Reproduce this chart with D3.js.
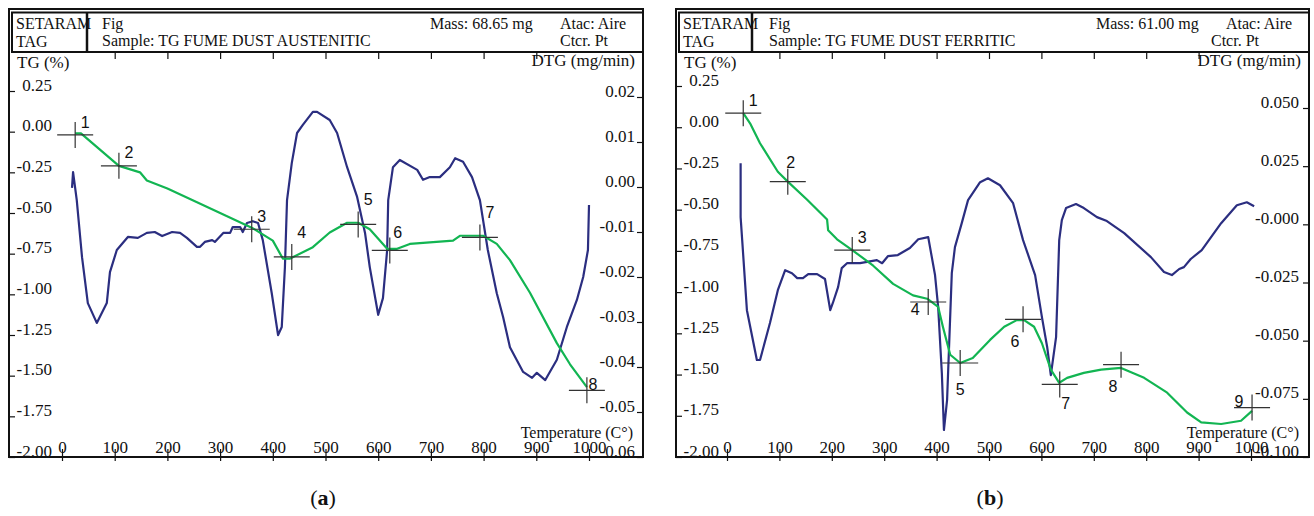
<!DOCTYPE html>
<html>
<head>
<meta charset="utf-8">
<script src="https://cdn.jsdelivr.net/npm/d3@7"></script>
<style>
  body { margin: 0; background: #fff; }
  svg text { font-family: "Liberation Serif", "Times New Roman", serif; fill: #111; }
  svg text.num { font-family: "Liberation Sans", Arial, sans-serif; }
</style>
</head>
<body>
<svg id="chart" width="1314" height="516"></svg>
<script>
// ---- data, panel (a): fume dust austenitic ----
const tempA = [25, 36, 72, 108, 148, 161, 200, 247, 300, 360, 400, 419, 433, 476, 508, 541, 562, 584,
  617, 636, 660, 742, 755, 799, 825, 850, 888, 939, 964, 996];
const tgA = [-0.01, -0.01, -0.11, -0.21, -0.25, -0.30, -0.35, -0.42, -0.50, -0.59, -0.67, -0.78, -0.78,
  -0.71, -0.62, -0.56, -0.56, -0.60, -0.72, -0.72, -0.69, -0.67, -0.64, -0.64, -0.69, -0.79, -0.99,
  -1.30, -1.43, -1.57];

const dtgTempA = [19, 21, 28, 38, 49, 66, 85, 91, 104, 125, 144, 161, 176, 190, 209, 224, 237, 256, 262,
  271, 285, 290, 306, 319, 324, 338, 343, 351, 362, 372, 381, 398, 410, 417, 423, 427, 436, 446, 457,
  476, 484, 508, 522, 541, 560, 575, 584, 600, 609, 617, 619, 628, 641, 674, 685, 698, 717, 736, 746,
  761, 778, 793, 808, 825, 837, 850, 875, 892, 901, 917, 939, 958, 977, 989, 998, 1000];
const dtgA = [-0.0002, 0.0033, -0.0029, -0.0156, -0.0258, -0.0302, -0.0258, -0.0189, -0.0140, -0.0111,
  -0.0113, -0.0102, -0.0100, -0.0109, -0.0100, -0.0102, -0.0113, -0.0133, -0.0133, -0.0122, -0.0118,
  -0.0122, -0.0102, -0.0102, -0.0089, -0.0089, -0.0100, -0.0080, -0.0076, -0.0080, -0.0118, -0.0236,
  -0.0329, -0.0311, -0.0178, -0.0029, 0.0053, 0.0120, 0.0138, 0.0167, 0.0167, 0.0149, 0.0120, 0.0044,
  -0.0022, -0.0102, -0.0178, -0.0284, -0.0247, -0.0140, -0.0029, 0.0044, 0.0060, 0.0038, 0.0016,
  0.0022, 0.0022, 0.0044, 0.0064, 0.0056, 0.0022, -0.0029, -0.0140, -0.0236, -0.0289, -0.0356,
  -0.0411, -0.0424, -0.0413, -0.0429, -0.0384, -0.0311, -0.0251, -0.0200, -0.0140, -0.0040];

const markTempA = [25, 108, 360, 436, 562, 622, 793, 996];
const markTgA = [-0.02, -0.21, -0.60, -0.77, -0.57, -0.73, -0.65, -1.59];
const markSideA = ['ne', 'ne', 'ne', 'nne', 'nne', 'ne2', 'nne', 'e'];

// ---- data, panel (b): fume dust ferritic ----
const tempB = [31, 44, 63, 97, 116, 153, 191, 193, 210, 239, 279, 317, 355, 382, 403, 412, 426, 445,
  469, 502, 529, 553, 567, 586, 601, 618, 634, 649, 681, 714, 752, 796, 840, 878, 905, 943, 981, 1002];
const tgB = [0.085, 0.024, -0.097, -0.27, -0.33, -0.44, -0.56, -0.625, -0.68, -0.745, -0.84, -0.95,
  -1.02, -1.04, -1.09, -1.21, -1.38, -1.43, -1.40, -1.29, -1.21, -1.17, -1.17, -1.21, -1.31, -1.47,
  -1.55, -1.52, -1.49, -1.47, -1.46, -1.52, -1.61, -1.73, -1.79, -1.80, -1.78, -1.72];

const dtgTempB = [26, 26, 29, 38, 57, 63, 82, 97, 111, 124, 134, 145, 155, 172, 187, 197, 202, 212, 219,
  229, 254, 286, 296, 307, 326, 349, 365, 384, 397, 403, 410, 414, 420, 429, 435, 448, 460, 483, 498,
  521, 546, 565, 588, 601, 611, 618, 628, 634, 639, 647, 666, 681, 706, 725, 758, 809, 834, 849, 863,
  872, 885, 906, 943, 973, 992, 1006];
const dtgB = [0.0263, 0.0031, -0.0068, -0.0369, -0.0583, -0.0583, -0.0424, -0.0283, -0.0197, -0.0210,
  -0.0231, -0.0231, -0.0214, -0.0214, -0.0235, -0.0369, -0.0338, -0.0270, -0.0188, -0.0167, -0.0167,
  -0.0154, -0.0167, -0.0137, -0.0132, -0.0102, -0.0064, -0.0055, -0.0218, -0.0356, -0.0639, -0.0884,
  -0.0755, -0.0210, -0.0098, 0.0005, 0.0104, 0.0181, 0.0198, 0.0168, 0.0091, -0.0068, -0.0218, -0.0399,
  -0.0527, -0.0648, -0.0485, -0.0068, 0.0018, 0.0070, 0.0087, 0.0070, 0.0031, 0.0014, -0.0038, -0.0141,
  -0.0205, -0.0218, -0.0192, -0.0184, -0.0149, -0.0111, 0.0005, 0.0082, 0.0095, 0.0078];

const markTempB = [31, 116, 239, 384, 445, 565, 635, 752, 1002];
const markTgB = [0.085, -0.33, -0.745, -1.06, -1.43, -1.165, -1.56, -1.44, -1.70];
const markSideB = ['ne', 'n', 'ne', 'wsw', 's', 'sw', 'se', 'sw', 'w'];

// ---- ticks ----
const tempTicks = [0, 100, 200, 300, 400, 500, 600, 700, 800, 900, 1000];
const topTicks = [100, 200, 300, 400, 500, 600, 700, 800, 900];
const tgTicks = [0.25, 0, -0.25, -0.5, -0.75, -1, -1.25, -1.5, -1.75, -2];
const tgTickLabels = ['0.25', '0.00', '-0.25', '-0.50', '-0.75', '-1.00', '-1.25', '-1.50', '-1.75', '-2.00'];
const dtgTicksA = [0.02, 0.01, 0, -0.01, -0.02, -0.03, -0.04, -0.05, -0.06];
const dtgTickLabelsA = ['0.02', '0.01', '0.00', '-0.01', '-0.02', '-0.03', '-0.04', '-0.05', '-0.06'];
const dtgTicksB = [0.05, 0.025, 0, -0.025, -0.05, -0.075, -0.1];
const dtgTickLabelsB = ['0.050', '0.025', '-0.000', '-0.025', '-0.050', '-0.075', '-0.100'];

// label offsets of the numbered crosses
const sideOffset = {
  ne: [10, -13], nne: [10, -25], ne2: [8, -18], e: [6, -6], n: [3, -19],
  wsw: [-13, 7], s: [0, 26], sw: [-8, 22], se: [6, 19], w: [-13, -6]
};

const svg = d3.select('#chart');
const GREEN = '#12b552';
const NAVY = '#2b2e80';
const INK = '#111';
const SERIF = '"Liberation Serif", "Times New Roman", serif';

function drawPanel(p) {
  const g = svg.append('g');
  const x = d3.scaleLinear().domain([0, 1000]).range([p.x0, p.x1]);
  const yTG = d3.scaleLinear().domain([-2, 0.25]).range([p.bottom, p.tgTop]);
  const yDTG = d3.scaleLinear().domain(p.dtgDomain).range([p.bottom, p.dtgTop]);

  // frame + header
  g.append('rect')
    .attr('x', p.left).attr('y', 9)
    .attr('width', p.right - p.left).attr('height', p.bottom - 9)
    .attr('fill', 'none').attr('stroke', INK).attr('stroke-width', 2);
  g.append('rect')
    .attr('x', p.left + 3).attr('y', 12.5)
    .attr('width', p.right - p.left - 3).attr('height', 39.5)
    .attr('fill', 'none').attr('stroke', INK).attr('stroke-width', 2);
  g.append('line')
    .attr('x1', p.divX).attr('x2', p.divX).attr('y1', 12.5).attr('y2', 52)
    .attr('stroke', INK).attr('stroke-width', 2.5);

  const head = (t, xx, yy, anchor) => g.append('text')
    .attr('x', xx).attr('y', yy).attr('font-size', 16)
    .attr('text-anchor', anchor || 'start').text(t);
  head('SETARAM', p.left + 7, 29);
  head('TAG', p.left + 7, 47);
  head('Fig', p.left + 93, 29);
  head('Sample: ' + p.sample, p.left + 93, 46);
  head('Mass: ' + p.mass, p.massX, 29);
  head('Atac: Aire', p.atacX, 29);
  head('Ctcr. Pt', p.ctcrX, 46);

  // axis titles
  g.append('text').attr('x', p.left + 8).attr('y', 68).attr('font-size', 17).text('TG (%)');
  g.append('text').attr('x', p.right - 8).attr('y', 66).attr('font-size', 17)
    .attr('text-anchor', 'end').text('DTG (mg/min)');
  g.append('text').attr('x', p.right - 10).attr('y', 438).attr('font-size', 16)
    .attr('text-anchor', 'end').text('Temperature (C°)');

  const styleAxis = (ax) => {
    ax.attr('font-family', SERIF).attr('font-size', 17);
    ax.select('.domain').remove();
    ax.selectAll('line').attr('stroke', INK).attr('stroke-width', 1.2);
    ax.selectAll('text').attr('fill', INK).style('font-family', SERIF);
  };

  // left TG axis
  const left = g.append('g').attr('transform', `translate(${p.left},0)`)
    .call(d3.axisRight(yTG).tickValues(tgTicks).tickFormat((d, i) => tgTickLabels[i]).tickSize(6));
  styleAxis(left);
  left.selectAll('text').attr('x', 43).attr('dy', -1).attr('text-anchor', 'end');

  // right DTG axis
  const right = g.append('g').attr('transform', `translate(${p.right},0)`)
    .call(d3.axisLeft(yDTG).tickValues(p.dtgTicks).tickFormat((d, i) => p.dtgLabels[i]).tickSize(6));
  styleAxis(right);
  right.selectAll('text').attr('x', p.rightLabelX).attr('dy', -1).attr('text-anchor', 'end');

  // bottom temperature axis
  const bottom = g.append('g').attr('transform', `translate(0,${p.bottom})`)
    .call(d3.axisBottom(x).tickValues(tempTicks).tickFormat(d3.format('d')).tickSize(4));
  styleAxis(bottom);
  bottom.selectAll('line').attr('y1', -8);
  bottom.selectAll('text').attr('y', -4).attr('dy', 0);

  // top tick marks under the header
  const top = g.append('g').attr('transform', 'translate(0,52)')
    .call(d3.axisBottom(x).tickValues(topTicks).tickFormat('').tickSize(7));
  styleAxis(top);

  // curves
  const dtgLine = d3.line().x(d => x(d[0])).y(d => yDTG(d[1]));
  const tgLine = d3.line().x(d => x(d[0])).y(d => yTG(d[1]));
  g.append('path')
    .attr('d', dtgLine(d3.zip(p.dtgTemp, p.dtg)))
    .attr('fill', 'none').attr('stroke', NAVY).attr('stroke-width', 2.2)
    .attr('stroke-linejoin', 'round');
  g.append('path')
    .attr('d', tgLine(d3.zip(p.temp, p.tg)))
    .attr('fill', 'none').attr('stroke', GREEN).attr('stroke-width', 2.2)
    .attr('stroke-linejoin', 'round');

  // numbered crosses
  const marks = g.selectAll('g.mark')
    .data(d3.zip(p.markTemp, p.markTg, p.markSide))
    .enter().append('g').attr('class', 'mark')
    .attr('transform', d => `translate(${x(d[0])},${yTG(d[1])})`);
  marks.append('line').attr('x1', -18).attr('x2', 18)
    .attr('stroke', '#333').attr('stroke-width', 1.2);
  marks.append('line').attr('y1', -13).attr('y2', 13)
    .attr('stroke', '#333').attr('stroke-width', 1.2);
  marks.append('text').attr('class', 'num')
    .attr('x', d => sideOffset[d[2]][0]).attr('y', d => sideOffset[d[2]][1])
    .attr('dy', '0.35em').attr('text-anchor', 'middle').attr('font-size', 16)
    .attr('fill', '#222')
    .text((d, i) => i + 1);

  // caption
  const cap = g.append('text').attr('x', p.capX).attr('y', 505)
    .attr('font-size', 22).attr('text-anchor', 'middle');
  cap.append('tspan').text('(');
  cap.append('tspan').attr('font-weight', 'bold').text(p.caption);
  cap.append('tspan').text(')');
}

drawPanel({
  left: 9, right: 643, bottom: 457, divX: 87,
  x0: 62, x1: 589, tgTop: 91, dtgTop: 97, dtgDomain: [-0.06, 0.02],
  dtgTicks: dtgTicksA, dtgLabels: dtgTickLabelsA, rightLabelX: -8,
  sample: 'TG FUME DUST AUSTENITIC', mass: '68.65 mg',
  massX: 430, atacX: 560, ctcrX: 560,
  temp: tempA, tg: tgA, dtgTemp: dtgTempA, dtg: dtgA,
  markTemp: markTempA, markTg: markTgA, markSide: markSideA,
  caption: 'a', capX: 323
});

drawPanel({
  left: 676, right: 1309, bottom: 457, divX: 752,
  x0: 727, x1: 1251, tgTop: 86, dtgTop: 108, dtgDomain: [-0.1, 0.05],
  dtgTicks: dtgTicksB, dtgLabels: dtgTickLabelsB, rightLabelX: -10,
  sample: 'TG FUME DUST FERRITIC', mass: '61.00 mg',
  massX: 1096, atacX: 1226, ctcrX: 1211,
  temp: tempB, tg: tgB, dtgTemp: dtgTempB, dtg: dtgB,
  markTemp: markTempB, markTg: markTgB, markSide: markSideB,
  caption: 'b', capX: 990
});
</script>
</body>
</html>
